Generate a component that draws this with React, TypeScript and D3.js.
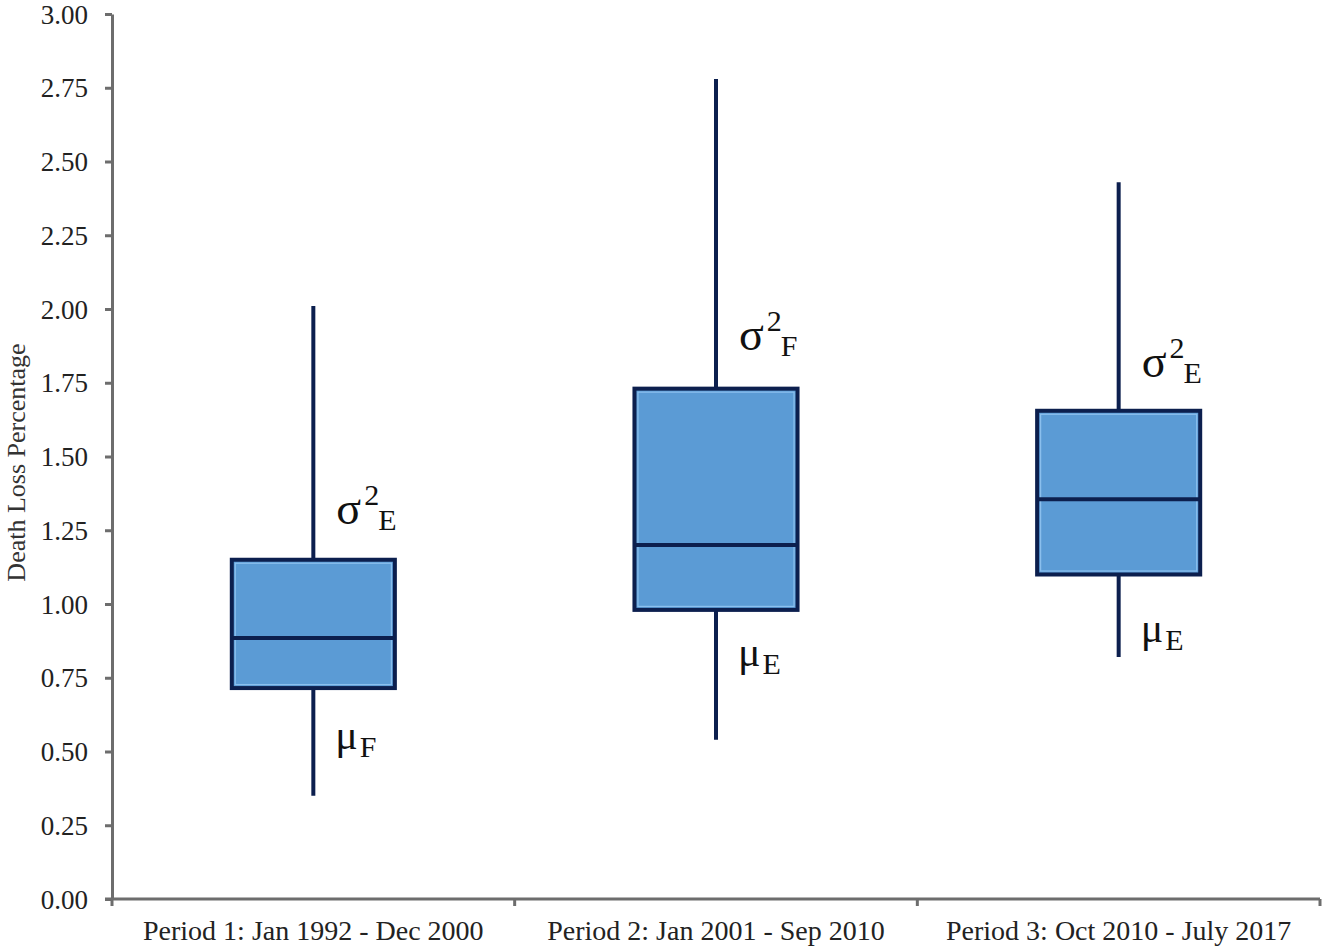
import React, { useEffect, useRef } from "react";
import * as d3 from "d3";

// periods on the x axis
const periods = [
  "Period 1: Jan 1992 - Dec 2000",
  "Period 2: Jan 2001 - Sep 2010",
  "Period 3: Oct 2010 - July 2017",
];

// box stats (death loss %)
const whiskerLow = [0.35, 0.54, 0.82];
const q1 = [0.715, 0.98, 1.1];
const median = [0.885, 1.2, 1.355];
const q3 = [1.15, 1.73, 1.655];
const whiskerHigh = [2.01, 2.78, 2.43];

// annotation symbols above / below each box
const upperSub = ["E", "F", "E"];
const lowerSub = ["F", "E", "E"];
const upperAt = [1.27, 1.86, 1.77];
const lowerAt = [0.51, 0.79, 0.87];

const yTicks = [0, 0.25, 0.5, 0.75, 1, 1.25, 1.5, 1.75, 2, 2.25, 2.5, 2.75, 3];

const W = 1325;
const H = 950;
const FONT = "'Liberation Serif', 'Times New Roman', serif";

export default function App() {
  const svgRef = useRef<SVGSVGElement>(null);

  useEffect(() => {
    const svg = d3.select(svgRef.current);
    svg.selectAll("*").remove();

    const margin = { top: 14, right: 5, bottom: 51, left: 112 };

    const x = d3
      .scaleBand()
      .domain(periods)
      .range([margin.left, W - margin.right])
      .paddingInner(0)
      .paddingOuter(0);

    const y = d3
      .scaleLinear()
      .domain([0, 3])
      .range([H - margin.bottom, margin.top]);

    const axisColor = "#6d6d6d";

    // y axis
    const yAxis = svg
      .append("g")
      .attr("transform", `translate(${margin.left},0)`)
      .call(
        d3
          .axisLeft(y)
          .tickValues(yTicks)
          .tickFormat(d3.format(".2f"))
          .tickSize(7)
          .tickPadding(17)
          .tickSizeOuter(0)
      );
    yAxis.select(".domain").attr("stroke", axisColor).attr("stroke-width", 3);
    yAxis.selectAll("line").attr("stroke", axisColor).attr("stroke-width", 3);
    yAxis
      .selectAll("text")
      .attr("font-family", FONT)
      .attr("font-size", 27)
      .attr("fill", "#222")
      .attr("dy", "0.34em");

    // x axis with ticks at band edges
    const xg = svg
      .append("g")
      .attr("transform", `translate(0,${y(0)})`);
    xg.append("line")
      .attr("x1", margin.left - 7)
      .attr("x2", W - margin.right)
      .attr("stroke", axisColor)
      .attr("stroke-width", 3);
    const edges = periods.map((p) => x(p)!).concat([W - margin.right]);
    xg.selectAll("line.tick")
      .data(edges)
      .join("line")
      .attr("class", "tick")
      .attr("x1", (d) => d)
      .attr("x2", (d) => d)
      .attr("y1", 0)
      .attr("y2", 7)
      .attr("stroke", axisColor)
      .attr("stroke-width", 3);
    xg.selectAll("text")
      .data(periods)
      .join("text")
      .attr("x", (d) => x(d)! + x.bandwidth() / 2)
      .attr("y", 41)
      .attr("text-anchor", "middle")
      .attr("font-family", FONT)
      .attr("font-size", 28)
      .attr("fill", "#222")
      .text((d) => d);

    // y title
    svg
      .append("text")
      .attr("transform", `translate(25,${(y(0) + y(3)) / 2 + 6}) rotate(-90)`)
      .attr("text-anchor", "middle")
      .attr("font-family", FONT)
      .attr("font-size", 26)
      .attr("fill", "#333")
      .text("Death Loss Percentage");

    const stroke = "#0c1f4e";
    const boxW = x.bandwidth() * 0.405;

    const g = svg.append("g");
    periods.forEach((p, i) => {
      const cx = x(p)! + x.bandwidth() / 2;
      g.append("line")
        .attr("x1", cx)
        .attr("x2", cx)
        .attr("y1", y(whiskerLow[i]))
        .attr("y2", y(whiskerHigh[i]))
        .attr("stroke", stroke)
        .attr("stroke-width", 4);
      g.append("rect")
        .attr("x", cx - boxW / 2)
        .attr("y", y(q3[i]))
        .attr("width", boxW)
        .attr("height", y(q1[i]) - y(q3[i]))
        .attr("fill", "#5b9bd5")
        .attr("stroke", stroke)
        .attr("stroke-width", 4);
      g.append("rect")
        .attr("x", cx - boxW / 2 + 3.5)
        .attr("y", y(q3[i]) + 3.5)
        .attr("width", boxW - 7)
        .attr("height", y(q1[i]) - y(q3[i]) - 7)
        .attr("fill", "none")
        .attr("stroke", "#8cc0ee")
        .attr("stroke-width", 1.2);
      g.append("line")
        .attr("x1", cx - boxW / 2)
        .attr("x2", cx + boxW / 2)
        .attr("y1", y(median[i]))
        .attr("y2", y(median[i]))
        .attr("stroke", stroke)
        .attr("stroke-width", 4);

      // sigma^2 label
      const up = g
        .append("text")
        .attr("x", cx + 23)
        .attr("y", y(upperAt[i]))
        .attr("font-family", FONT)
        .attr("font-size", 46)
        .attr("fill", "#111");
      up.append("tspan").text("σ");
      up.append("tspan").attr("font-size", 30).attr("dy", -19).attr("dx", 3).text("2");
      up.append("tspan").attr("font-size", 30).attr("dy", 25).attr("dx", -1).text(upperSub[i]);

      // mu label
      const lo = g
        .append("text")
        .attr("x", cx + 22)
        .attr("y", y(lowerAt[i]))
        .attr("font-family", FONT)
        .attr("font-size", 42)
        .attr("fill", "#111");
      lo.append("tspan").text("μ");
      lo.append("tspan").attr("font-size", 30).attr("dy", 8).attr("dx", 2).text(lowerSub[i]);
    });
  }, []);

  return (
    <svg
      ref={svgRef}
      width={W}
      height={H}
      style={{ position: "absolute", left: 0, top: 0, background: "#fff" }}
    />
  );
}
